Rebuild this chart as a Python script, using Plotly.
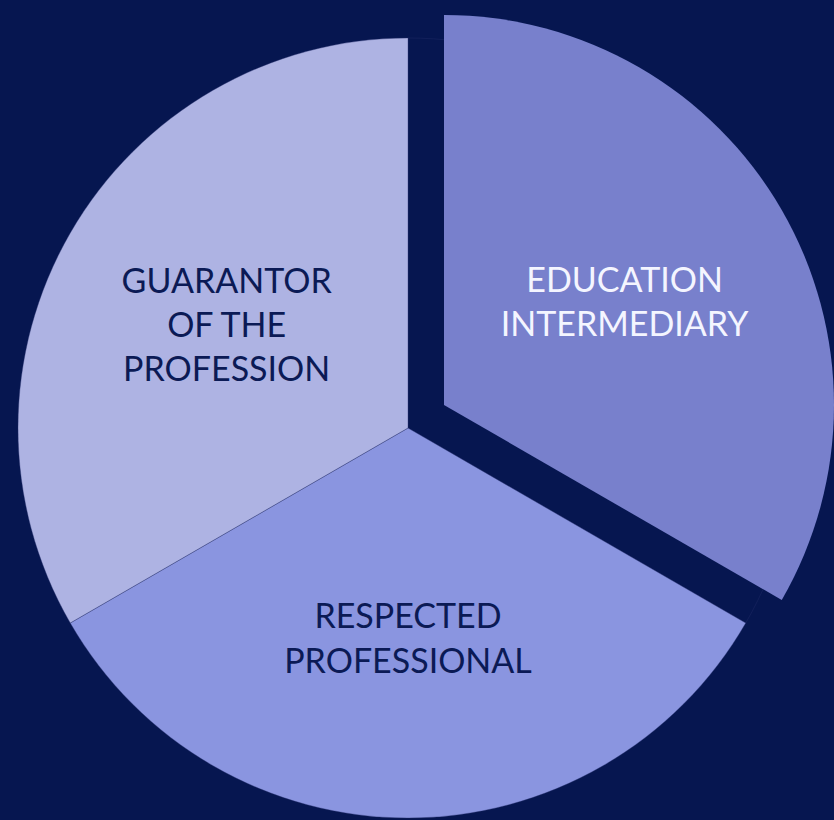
import plotly.graph_objects as go

labels = ["EDUCATION<br>INTERMEDIARY", "RESPECTED<br>PROFESSIONAL", "GUARANTOR<br>OF THE<br>PROFESSION"]
values = [1, 1, 1]
colors = ["#7880CC", "#8A95E0", "#AEB3E3"]
text_colors = ["#F4F5FF", "#0B1A55", "#0B1A55"]
bg = "#061650"

W, H = 834, 820
r = 390
# main pie centre (px from left, px from top)
cx1, cy1 = 408, 428
# pulled slice centre
cx2, cy2 = 444, 405

def dom(cx, cy):
    x = [(cx - r) / W, (cx + r) / W]
    yc = H - cy
    y = [(yc - r) / H, (yc + r) / H]
    x = [max(0, min(1, v)) for v in x]
    y = [max(0, min(1, v)) for v in y]
    return dict(x=x, y=y)

main_colors = ["rgba(0,0,0,0)", colors[1], colors[2]]
main_text = ["", labels[1], labels[2]]
edu_colors = [colors[0], "rgba(0,0,0,0)", "rgba(0,0,0,0)"]
edu_text = [labels[0], "", ""]

font = dict(family="Lato, Open Sans, sans-serif", size=34, color=text_colors)

fig = go.Figure()
fig.add_trace(go.Pie(
    values=values, labels=labels, text=main_text, textinfo="text",
    sort=False, direction="clockwise", rotation=0,
    marker=dict(colors=main_colors, line=dict(color="rgba(40,50,110,0.35)", width=1)),
    textfont=font, insidetextfont=font,
    insidetextorientation="horizontal", textposition="inside",
    domain=dom(cx1, cy1), showlegend=False, hoverinfo="skip",
))
fig.add_trace(go.Pie(
    values=values, labels=labels, text=edu_text, textinfo="text",
    sort=False, direction="clockwise", rotation=0,
    marker=dict(colors=edu_colors, line=dict(color="rgba(0,0,0,0)", width=0)),
    textfont=font, insidetextfont=font,
    insidetextorientation="horizontal", textposition="inside",
    domain=dom(cx2, cy2), showlegend=False, hoverinfo="skip",
))
fig.update_layout(
    width=W, height=H, margin=dict(l=0, r=0, t=0, b=0),
    paper_bgcolor=bg, plot_bgcolor=bg, showlegend=False,
)
fig.write_html(
    "out.html",
    config={"displayModeBar": False},
    post_script="document.body.style.margin='0';document.body.style.overflow='hidden';document.body.style.background='%s';" % bg,
)
